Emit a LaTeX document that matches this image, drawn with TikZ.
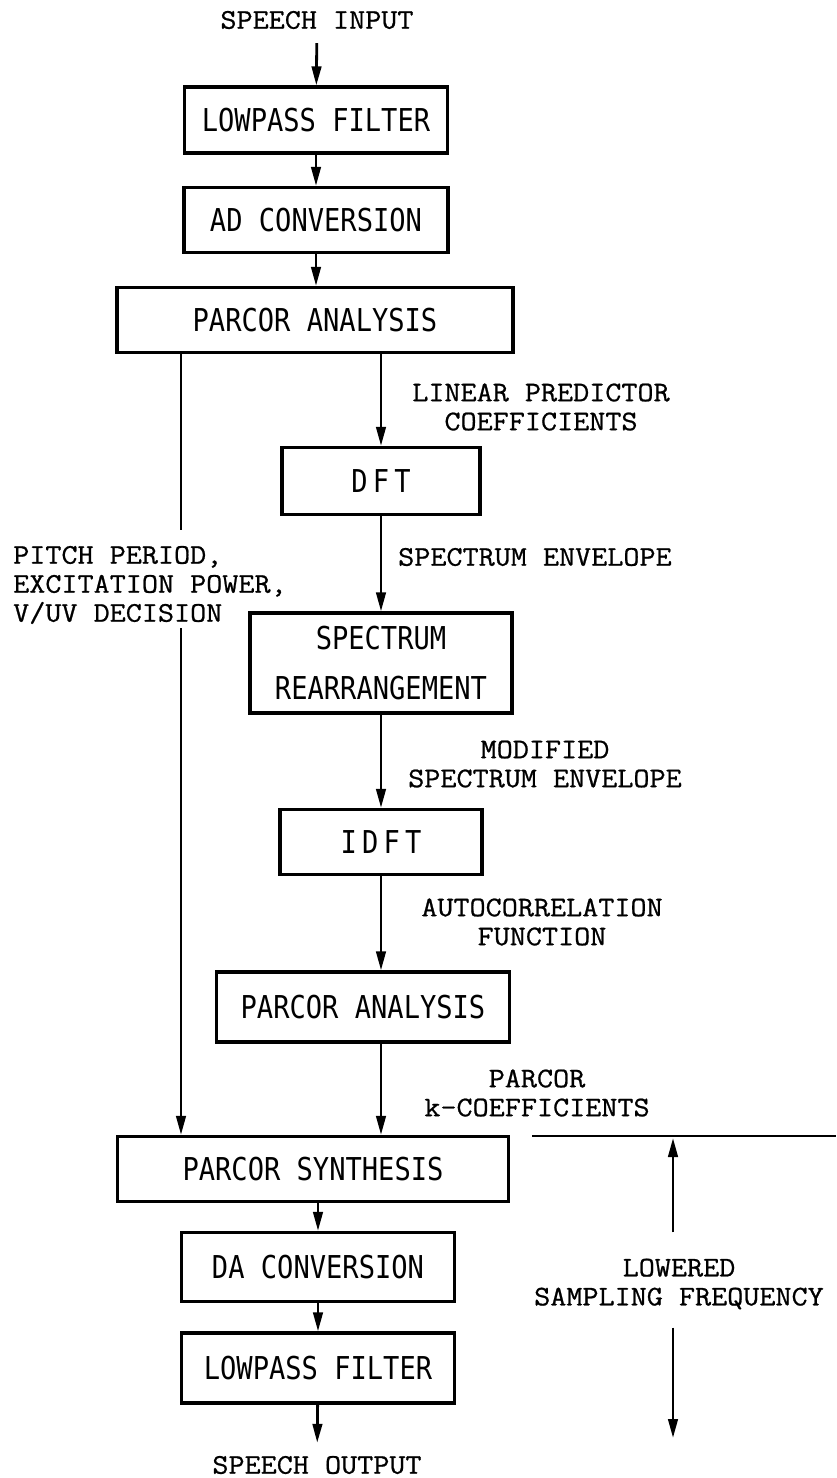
\documentclass[tikz,border=0pt]{standalone}
\usepackage{fontspec}
\usetikzlibrary{arrows.meta}
\newfontfamily\blockfont[FakeStretch=0.86]{DejaVu Sans Mono}
\newfontfamily\notefont[FakeStretch=1.1,FakeBold=0.8]{Latin Modern Mono}
\tikzset{
 block/.style={draw,line width=3.2pt,inner sep=0,align=center,font=\blockfont\fontsize{31.5}{50}\selectfont},
 note/.style={inner sep=0,align=center,font=\notefont\fontsize{28.4}{29}\selectfont},
 flow/.style={line width=2.8pt,-{Triangle[length=19pt,width=9.5pt]}},
 plain/.style={line width=2.8pt}
}
\begin{document}
\begin{tikzpicture}[x=1pt,y=-1pt]
\path[use as bounding box] (0,0) rectangle (836,1478);
% main column
\node[note] (in) at (317,20) {SPEECH INPUT};
\node[block,minimum width=263pt,minimum height=66pt] (lpfa) at (316,120) {LOWPASS FILTER};
\node[block,minimum width=264pt,minimum height=65pt] (adc) at (316,220) {AD CONVERSION};
\node[block,minimum width=396pt,minimum height=65pt] (pa1) at (315,320) {PARCOR ANALYSIS};
% spectrum branch
\node[block,minimum width=198pt,minimum height=67pt] (dft) at (381,481) {D\,F\,T};
\node[block,minimum width=262pt,minimum height=100pt] (spr) at (381,663) {SPECTRUM\\REARRANGEMENT};
\node[block,minimum width=202pt,minimum height=65pt] (idft) at (381,842) {I\,D\,F\,T};
\node[block,minimum width=293pt,minimum height=70pt] (pa2) at (363,1007) {PARCOR ANALYSIS};
% output column
\node[block,minimum width=391pt,minimum height=65pt] (psyn) at (313,1169) {PARCOR SYNTHESIS};
\node[block,minimum width=273pt,minimum height=69pt] (dac) at (318,1267) {DA CONVERSION};
\node[block,minimum width=273pt,minimum height=70pt] (lpfb) at (318,1368) {LOWPASS FILTER};
\node[note] (out) at (317,1465) {SPEECH OUTPUT};
% labels
\node[note] (lpc) at (541,407) {LINEAR PREDICTOR\\COEFFICIENTS};
\node[note,anchor=west] (spenv) at (398,557) {SPECTRUM ENVELOPE};
\node[note] (modenv) at (545,764) {MODIFIED\\SPECTRUM ENVELOPE};
\node[note] (autoc) at (542,922) {AUTOCORRELATION\\FUNCTION};
\node[note] (kcoef) at (537,1093) {PARCOR\\k-COEFFICIENTS};
\node[note,align=left,anchor=west] (pitch) at (13,585) {PITCH PERIOD,\\EXCITATION POWER,\\V/UV DECISION};
\node[note] (low) at (679,1284) {LOWERED\\SAMPLING FREQUENCY};
% connectors
\draw[flow,shorten <=14pt] (in) -- (lpfa);
\draw[flow] (lpfa) -- (adc);
\draw[flow] (adc.south) -- (adc.south |- pa1.north);
\draw[flow] (pa1.south -| dft.north) -- (dft.north);
\draw[flow] (dft) -- (spr);
\draw[flow] (spr) -- (idft);
\draw[flow] (idft.south) -- (idft.south |- pa2.north);
\draw[flow] (pa2.south -| dft) -- (psyn.north -| dft);
\coordinate (ltop) at (181,530);
\coordinate (lbot) at (181,628);
\draw[plain] (pa1.south -| ltop) -- (ltop);
\draw[flow] (lbot) -- (lbot |- psyn.north);
\draw[flow] (psyn.south -| dac) -- (dac.north);
\draw[flow] (dac) -- (lpfb);
\draw[flow,shorten >=13pt] (lpfb) -- (out);
% sampling frequency marker
\coordinate (sfl) at (532,1136);
\coordinate (sfr) at (836,1136);
\coordinate (sfup) at (673,1138);
\coordinate (sfdn) at (673,1438);
\draw[plain] (sfl) -- (sfr);
\draw[flow,shorten <=26pt] (low.north -| sfup) -- (sfup);
\draw[flow,shorten <=18pt] (low.south -| sfdn) -- (sfdn);
\end{tikzpicture}
\end{document}
